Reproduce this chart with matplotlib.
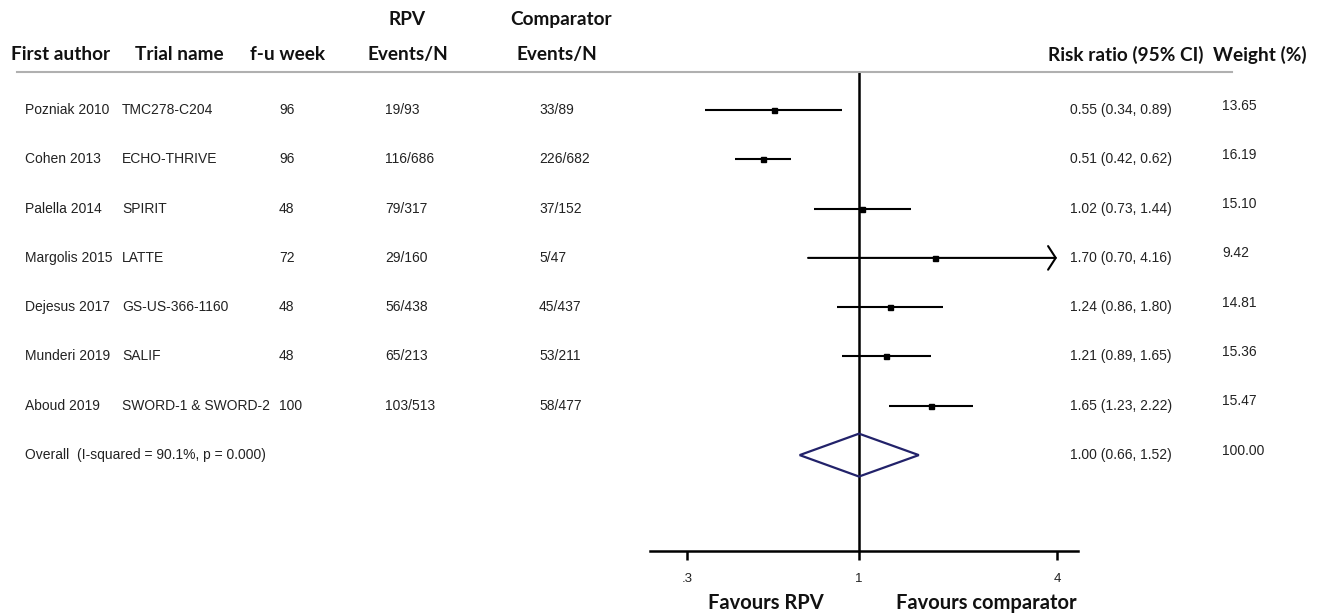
import numpy as np
import matplotlib
matplotlib.use("Agg")
import matplotlib.pyplot as plt
from matplotlib.patches import Polygon
from matplotlib.lines import Line2D
from matplotlib.transforms import blended_transform_factory

# study data
authors = ["Pozniak 2010", "Cohen 2013", "Palella 2014", "Margolis 2015",
           "Dejesus 2017", "Munderi 2019", "Aboud 2019"]
trials = ["TMC278-C204", "ECHO-THRIVE", "SPIRIT", "LATTE",
          "GS-US-366-1160", "SALIF", "SWORD-1 & SWORD-2"]
weeks = ["96", "96", "48", "72", "48", "48", "100"]
rpv_events = ["19/93", "116/686", "79/317", "29/160", "56/438", "65/213", "103/513"]
comp_events = ["33/89", "226/682", "37/152", "5/47", "45/437", "53/211", "58/477"]
rr = [0.55, 0.51, 1.02, 1.70, 1.24, 1.21, 1.65]
lo = [0.34, 0.42, 0.73, 0.70, 0.86, 0.89, 1.23]
hi = [0.89, 0.62, 1.44, 4.16, 1.80, 1.65, 2.22]
weights = ["13.65", "16.19", "15.10", "9.42", "14.81", "15.36", "15.47"]

overall_label = "Overall  (I-squared = 90.1%, p = 0.000)"
overall_rr, overall_lo, overall_hi = 1.00, 0.66, 1.52
overall_weight = "100.00"

xticks = [0.3, 1, 4]
xticklabels = [".3", "1", "4"]

W, H = 1317, 616
fig = plt.figure(figsize=(W / 100, H / 100), dpi=100)

# pixel helpers for placing things
def fx(px):
    return px / W

def fy(py):
    return 1 - py / H

row0, rowstep = 110, 49.3
def ry(py):
    return (py - row0) / rowstep

ax = fig.add_axes([fx(650), fy(551), fx(1078) - fx(650), fy(71.5) - fy(551)])
ax.set_xscale("log")
xmin = np.exp(-(859 - 650) / 142.8)
xmax = np.exp((1078 - 859) / 142.8)
ax.set_xlim(xmin, xmax)
ax.set_ylim(ry(551), ry(71.5))
for s in ["top", "right", "left"]:
    ax.spines[s].set_visible(False)
ax.spines["bottom"].set_linewidth(1.8)
ax.set_yticks([])
ax.set_xticks(xticks)
ax.set_xticklabels(xticklabels, fontsize=9.5, family="Liberation Sans", color="#222222")
ax.xaxis.set_minor_locator(matplotlib.ticker.NullLocator())
ax.tick_params(axis="x", direction="out", length=6.5, width=1.8, pad=9)

ax.axvline(1, color="black", lw=1.8, zorder=1)

clip_hi = xticks[-1]
for i in range(len(rr)):
    h = min(hi[i], clip_hi)
    if hi[i] > clip_hi:
        # CI runs off the scale -> open arrow
        ax.annotate("", xy=(h, i), xytext=(lo[i], i),
                    arrowprops=dict(arrowstyle="->,head_length=0.55,head_width=0.85",
                                    lw=1.5, color="black", shrinkA=0, shrinkB=0))
    else:
        ax.plot([lo[i], h], [i, i], color="black", lw=1.5, solid_capstyle="butt")
    ax.plot(rr[i], i, marker="s", ms=3.6, color="black")

oy = len(rr)
dh = 0.435
diamond = Polygon([(overall_lo, oy), (overall_rr, oy - dh), (overall_hi, oy), (overall_rr, oy + dh)],
                  closed=True, fill=False, edgecolor="#22226a", lw=1.6, zorder=3)
ax.add_patch(diamond)

# table text
tr = blended_transform_factory(fig.transFigure, ax.transData)
dfont = dict(family="Liberation Sans", fontsize=10, color="#222222", va="center",
             transform=tr, clip_on=False)
hfont = dict(family="Lato", fontweight="bold", fontsize=13.7, color="#111111", va="center",
             transform=tr, clip_on=False)

for i in range(len(rr)):
    fig.text(fx(25), i, authors[i], ha="left", **dfont)
    fig.text(fx(122), i, trials[i], ha="left", **dfont)
    fig.text(fx(279), i, weeks[i], ha="left", **dfont)
    fig.text(fx(385), i, rpv_events[i], ha="left", **dfont)
    fig.text(fx(539), i, comp_events[i], ha="left", **dfont)
    fig.text(fx(1070), i, "%.2f (%.2f, %.2f)" % (rr[i], lo[i], hi[i]), ha="left", **dfont)
    fig.text(fx(1222), i - 0.09, weights[i], ha="left", **dfont)

fig.text(fx(25), oy, overall_label, ha="left", **dfont)
fig.text(fx(1070), oy, "%.2f (%.2f, %.2f)" % (overall_rr, overall_lo, overall_hi), ha="left", **dfont)
fig.text(fx(1222), oy - 0.09, overall_weight, ha="left", **dfont)

# headers
hy = ry(55)
fig.text(fx(61), hy, "First author", ha="center", **hfont)
fig.text(fx(179), hy, "Trial name", ha="center", **hfont)
fig.text(fx(288), hy, "f-u week", ha="center", **hfont)
fig.text(fx(408), hy, "Events/N", ha="center", **hfont)
fig.text(fx(407), ry(20), "RPV", ha="center", **hfont)
fig.text(fx(557), hy, "Events/N", ha="center", **hfont)
fig.text(fx(561), ry(20), "Comparator", ha="center", **hfont)
fig.text(fx(1126), hy, "Risk ratio (95% CI)", ha="center", **hfont)
fig.text(fx(1260), hy, "Weight (%)", ha="center", **hfont)

fig.add_artist(Line2D([fx(17), fx(1232)], [fy(71.5), fy(71.5)], color="#b0b0b0", lw=1.5))

ffont = dict(hfont, fontsize=14.5)
fig.text(fx(766), ry(603), "Favours RPV", ha="center", **ffont)
fig.text(fx(986), ry(603), "Favours comparator", ha="center", **ffont)

fig.savefig("out.png", dpi=100)
